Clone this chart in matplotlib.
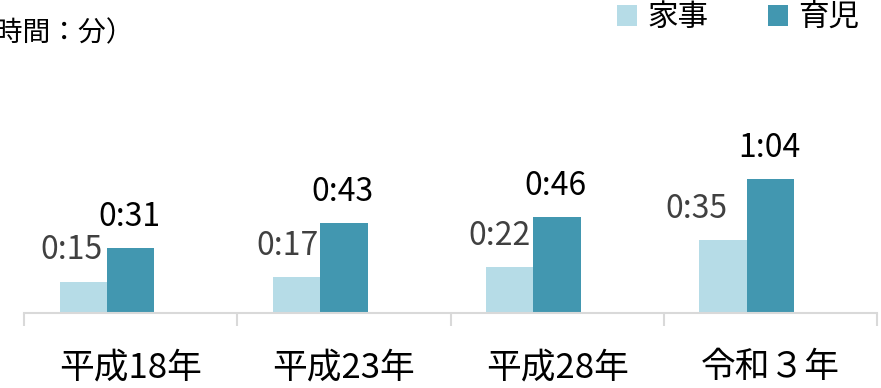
import matplotlib
matplotlib.use('Agg')
import matplotlib.pyplot as plt
import numpy as np

plt.rcParams['font.family'] = ['Noto Sans CJK JP', 'DejaVu Sans']

# データ（単位：分）
categories = ['平成18年', '平成23年', '平成28年', '令和３年']
kaji = [15, 17, 22, 35]
ikuji = [31, 43, 46, 64]
series_names = ['家事', '育児']

# ラベルの横ずれ（px）
label_dx_kaji = [-12, -9, -10, -27]

c_light = '#b6dce7'
c_teal = '#4297b0'
grid_c = '#d9d9d9'

W, H = 881, 388
fig = plt.figure(figsize=(W / 100, H / 100), dpi=100)
ax = fig.add_axes([24 / W, 75 / H, 853 / W, 273 / H])

x = np.arange(len(categories))
w = 0.222
b1 = ax.bar(x - w, kaji, width=w, color=c_light, label=series_names[0])
b2 = ax.bar(x, ikuji, width=w, color=c_teal, label=series_names[1])

def fmt(m):
    return f'{m // 60}:{m % 60:02d}'

for i, (r, v) in enumerate(zip(b1, kaji)):
    ax.annotate(fmt(v), (r.get_x() + r.get_width() / 2, v),
                xytext=(label_dx_kaji[i] * 0.72, 11), textcoords='offset points',
                ha='center', va='bottom', fontsize=23, color='#404040')
for r, v in zip(b2, ikuji):
    ax.annotate(fmt(v), (r.get_x() + r.get_width() / 2, v),
                xytext=(-1, 11), textcoords='offset points',
                ha='center', va='bottom', fontsize=23, color='black')

ax.set_xlim(-0.5, len(categories) - 0.5)
ax.set_ylim(0, 273 / 2.09)
ax.set_yticks([])
for s in ['left', 'right', 'top']:
    ax.spines[s].set_visible(False)
ax.spines['bottom'].set_color(grid_c)
ax.spines['bottom'].set_linewidth(1.5)

ax.set_xticks(np.arange(-0.5, len(categories), 1.0))
ax.set_xticklabels([])
ax.tick_params(axis='x', which='major', length=9.5, width=1.5, color=grid_c)
ax.set_xticks(x, minor=True)
ax.set_xticklabels(categories, minor=True, fontsize=25)
ax.tick_params(axis='x', which='minor', length=0, pad=27)

fig.text(-32 / W, 1 - 33 / H, '（時間：分）', ha='left', va='center', fontsize=20)

fig.legend(handles=[b1, b2], labels=series_names, loc='upper left',
           bbox_to_anchor=(617 / W, 1 - 2 / H), ncol=2, frameon=False,
           fontsize=22, handlelength=0.66, handleheight=0.66,
           handletextpad=0.33, columnspacing=1.95, borderpad=0, borderaxespad=0)

fig.savefig('out.png', dpi=100)
